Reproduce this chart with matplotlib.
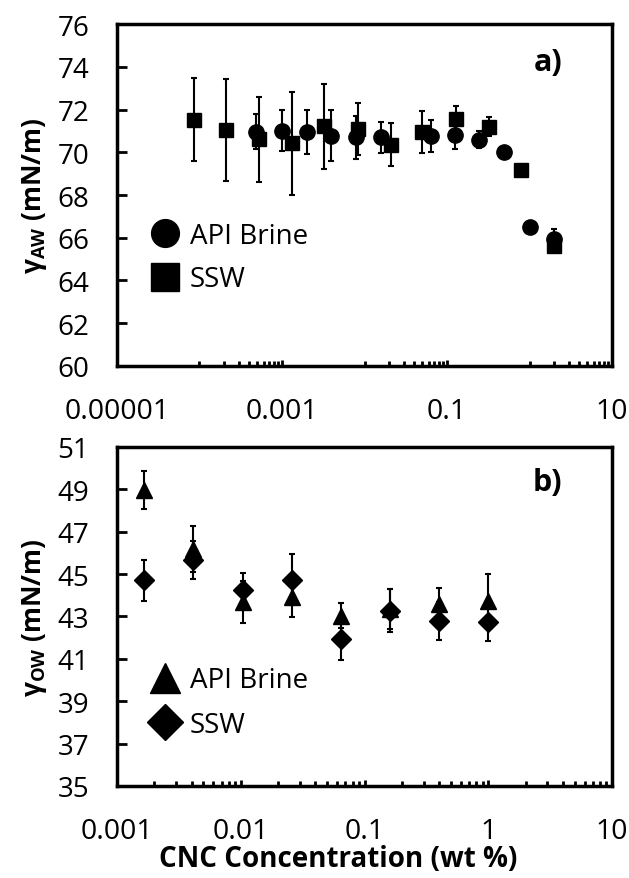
import numpy as np
import matplotlib
matplotlib.use("Agg")
import matplotlib.pyplot as plt
from matplotlib.lines import Line2D
from matplotlib.ticker import FixedLocator, FixedFormatter, NullFormatter

plt.rcParams['font.family'] = ['Open Sans', 'DejaVu Sans']
plt.rcParams['mathtext.fontset'] = 'custom'
plt.rcParams['mathtext.rm'] = 'Open Sans'
plt.rcParams['mathtext.bf'] = 'Open Sans:bold'

# panel a) air/water surface tension
aw_api_x = [4.9e-4, 9.9e-4, 2.0e-3, 3.9e-3, 7.9e-3, 0.0158, 0.064, 0.125, 0.247, 0.495, 1.0, 1.98]
aw_api_y = [70.97, 71.01, 70.94, 70.78, 70.70, 70.70, 70.75, 70.81, 70.58, 70.03, 66.50, 65.92]
aw_api_err = [0.8, 0.95, 1.03, 1.2, 1.0, 0.73, 0.74, 0.65, 0.4, 0.2, 0.15, 0.5]

aw_ssw_x = [8.6e-5, 2.1e-4, 5.3e-4, 1.32e-3, 3.26e-3, 8.3e-3, 0.0208, 0.050, 0.1285, 0.32, 0.79, 1.98]
aw_ssw_y = [71.53, 71.05, 70.60, 70.42, 71.22, 71.09, 70.36, 70.94, 71.56, 71.20, 69.15, 65.62]
aw_ssw_err = [1.93, 2.38, 2.0, 2.4, 1.98, 1.23, 1.02, 0.97, 0.6, 0.45, 0.15, 0.15]

# panel b) oil/water interfacial tension
ow_x = [0.00166, 0.00414, 0.0104, 0.0258, 0.0646, 0.16, 0.40, 1.0]
ow_api_y = [48.95, 46.19, 43.67, 43.91, 43.04, 43.35, 43.59, 43.75]
ow_api_err = [0.9, 1.1, 1.0, 0.95, 0.6, 0.95, 0.75, 1.25]
ow_ssw_y = [44.70, 45.67, 44.27, 44.74, 41.94, 43.28, 42.80, 42.75]
ow_ssw_err = [0.96, 0.9, 0.8, 1.2, 1.0, 1.0, 0.9, 0.9]

top_xticks = [1e-5, 1e-3, 1e-1, 10]
top_xlabels = ['0.00001', '0.001', '0.1', '10']
bot_xticks = [1e-3, 1e-2, 1e-1, 1, 10]
bot_xlabels = ['0.001', '0.01', '0.1', '1', '10']

fig = plt.figure(figsize=(6.29, 8.79), dpi=100)
ax1 = fig.add_axes([0.186, 0.5825, 0.787, 0.389])
ax2 = fig.add_axes([0.186, 0.1047, 0.787, 0.3857])

ebkw = dict(color='black', ecolor='black', elinewidth=1.5, capsize=2, capthick=1.5, linestyle='none')

ax1.errorbar(aw_api_x, aw_api_y, yerr=aw_api_err, marker='o', markersize=11, **ebkw)
ax1.errorbar(aw_ssw_x, aw_ssw_y, yerr=aw_ssw_err, marker='s', markersize=10.5, **ebkw)

ax2.errorbar(ow_x, ow_api_y, yerr=ow_api_err, marker='^', markersize=11, **ebkw)
ax2.errorbar(ow_x, ow_ssw_y, yerr=ow_ssw_err, marker='D', markersize=10.5, **ebkw)

for ax in (ax1, ax2):
    ax.set_xscale('log')
    for s in ax.spines.values():
        s.set_linewidth(2.5)
    ax.tick_params(axis='both', which='both', direction='in', labelsize=20, width=2)
    ax.tick_params(axis='x', which='major', labelsize=20.5)
    ax.tick_params(axis='y', which='major', length=7, pad=20)
    ax.tick_params(axis='x', which='major', length=4.5, pad=22)
    ax.tick_params(axis='x', which='minor', length=3.5)
    ax.xaxis.set_minor_formatter(NullFormatter())

# top panel
ax1.set_xlim(1e-5, 10)
ax1.set_ylim(60, 76)
ax1.set_yticks(np.arange(60, 77, 2))
ax1.xaxis.set_major_locator(FixedLocator(top_xticks))
ax1.xaxis.set_major_formatter(FixedFormatter(top_xlabels))
minor_top = [k * 10.0 ** m for m in (-4, -2, 0) for k in range(1, 10)]
ax1.xaxis.set_minor_locator(FixedLocator(minor_top))
ax1.set_ylabel(r'$\mathbf{γ}_{\mathbf{AW}}$ (mN/m)', fontsize=19, fontweight='bold', labelpad=6)
ax1.text(0.87, 0.89, 'a)', transform=ax1.transAxes, fontsize=22, fontweight='bold',
         ha='center', va='center')

# bottom panel
ax2.set_xlim(1e-3, 10)
ax2.set_ylim(35, 51)
ax2.set_yticks(np.arange(35, 52, 2))
ax2.xaxis.set_major_locator(FixedLocator(bot_xticks))
ax2.xaxis.set_major_formatter(FixedFormatter(bot_xlabels))
minor_bot = [k * 10.0 ** m for m in (-3, -2, -1, 0) for k in range(2, 10)]
ax2.xaxis.set_minor_locator(FixedLocator(minor_bot))
ax2.tick_params(axis='x', which='major', pad=22)
ax2.set_ylabel(r'$\mathbf{γ}_{\mathbf{OW}}$ (mN/m)', fontsize=19, fontweight='bold', labelpad=6)
ax2.set_xlabel('CNC Concentration (wt %)', fontsize=20, fontweight='bold')
ax2.xaxis.set_label_coords(0.446, -0.17)
ax2.text(0.87, 0.897, 'b)', transform=ax2.transAxes, fontsize=22, fontweight='bold',
         ha='center', va='center')

# legends
h1 = [Line2D([], [], color='black', marker='o', linestyle='none', markersize=20),
      Line2D([], [], color='black', marker='s', linestyle='none', markersize=20)]
ax1.legend(h1, ['API Brine', 'SSW'], loc='center left', bbox_to_anchor=(0.069, 0.317),
           frameon=False, fontsize=20, handlelength=1.0, handletextpad=0.4,
           labelspacing=0.55, borderpad=0, borderaxespad=0)

h2 = [Line2D([], [], color='black', marker='^', linestyle='none', markersize=21),
      Line2D([], [], color='black', marker='D', linestyle='none', markersize=18)]
ax2.legend(h2, ['API Brine', 'SSW'], loc='center left', bbox_to_anchor=(0.069, 0.246),
           frameon=False, fontsize=20, handlelength=1.0, handletextpad=0.4,
           labelspacing=0.6, borderpad=0, borderaxespad=0)

fig.savefig('out.png', dpi=100)
